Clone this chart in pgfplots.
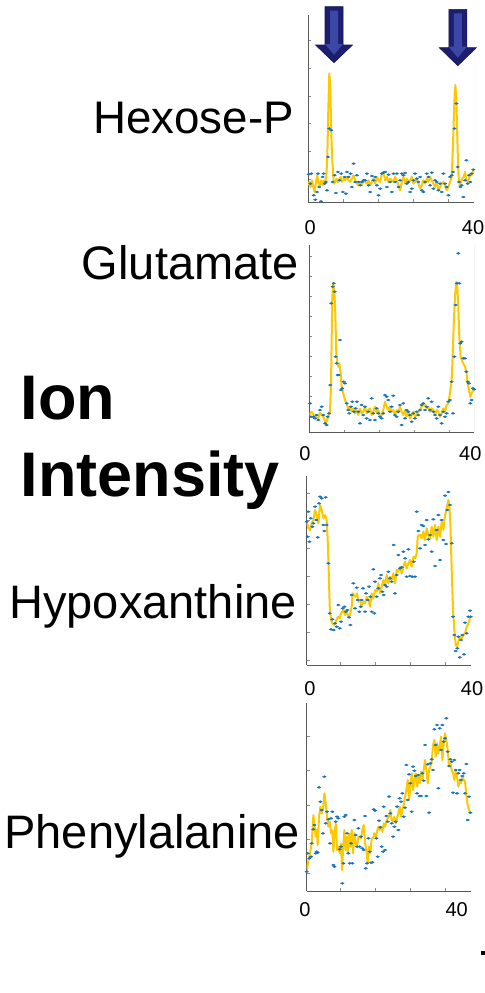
\documentclass[border=0pt]{standalone}
\usepackage{pgfplots}
\pgfplotsset{compat=1.18}
\usepackage{fontspec}
\setmainfont{Liberation Sans}
\definecolor{mblue}{RGB}{20,115,190}
\definecolor{myel}{RGB}{252,200,0}
\definecolor{navyA}{RGB}{28,30,110}
\definecolor{navyB}{RGB}{60,72,165}
\pgfplotsset{mini/.style={scale only axis, axis lines*=left,
  axis line style={black!65, line width=0.9bp},
  tick style={black!45, line width=0.5bp}, major tick length=3bp,
  tick align=inside, xticklabels={}, yticklabels={}},
  dots/.style={only marks, mark=*, mark size=1.15bp, color=mblue,
  mark options={xscale=1.5,yscale=0.85}},
  yel/.style={no marks, color=myel, line width=2bp, line join=round}}
\begin{document}
\begin{tikzpicture}[x=1bp,y=1bp]
\fill[white] (0,0) rectangle (485,-993);
\useasboundingbox (0,0) rectangle (485,-993);
% ---------- Hexose-P
\begin{axis}[mini, at={(308bp,-202bp)}, anchor=south west, width=166bp, height=187bp,
  xmin=38, xmax=537, ymin=-605, ymax=-45,
  xtick={143,248,354,459}, ytick={-537,-453,-370,-287,-203,-120}]
\draw[black!12] (rel axis cs:1,0) -- (rel axis cs:1,1);
\addplot[dots] coordinates {(40,-522)(45,-550)(48,-520)(55,-585)(60,-598)(65,-575)(68,-520)(72,-560)(77,-603)(82,-530)(85,-520)(88,-550)(92,-545)(95,-570)(98,-470)(102,-385)(108,-390)(112,-545)(118,-525)(122,-578)(128,-515)(133,-540)(138,-520)(143,-575)(148,-530)(152,-580)(155,-515)(160,-530)(166,-520)(170,-560)(175,-490)(180,-545)(185,-525)(190,-545)(195,-555)(200,-545)(205,-540)(210,-540)(215,-520)(220,-555)(225,-575)(230,-527)(235,-540)(240,-530)(245,-555)(250,-585)(255,-565)(260,-520)(265,-517)(270,-515)(275,-560)(280,-523)(285,-545)(290,-575)(295,-520)(300,-545)(305,-520)(310,-560)(315,-540)(320,-520)(325,-525)(330,-518)(335,-550)(340,-545)(345,-575)(350,-565)(355,-540)(360,-520)(365,-535)(370,-545)(375,-530)(380,-570)(385,-575)(390,-545)(395,-520)(400,-530)(405,-555)(410,-517)(415,-565)(420,-540)(425,-545)(430,-570)(435,-550)(440,-575)(445,-520)(450,-550)(455,-560)(460,-585)(465,-530)(470,-525)(474,-515)(478,-385)(484,-310)(488,-500)(492,-545)(496,-560)(500,-555)(505,-590)(510,-540)(514,-480)(518,-550)(522,-525)(526,-545)(530,-520)(535,-508)};
\addplot[yel] coordinates {(38,-555)(42,-545)(46,-560)(50,-540)(54,-560)(58,-575)(62,-545)(66,-525)(70,-550)(74,-555)(78,-540)(82,-555)(86,-540)(90,-545)(93,-530)(96,-470)(99,-330)(102,-220)(105,-260)(108,-400)(111,-480)(114,-530)(117,-550)(120,-545)(124,-535)(128,-545)(132,-538)(136,-530)(140,-545)(145,-535)(150,-540)(155,-530)(160,-540)(165,-545)(170,-535)(175,-525)(180,-540)(185,-550)(190,-555)(195,-545)(200,-555)(205,-540)(210,-545)(215,-550)(220,-540)(225,-555)(230,-545)(235,-535)(240,-550)(245,-530)(250,-540)(255,-545)(260,-520)(265,-515)(270,-540)(275,-530)(280,-545)(285,-535)(290,-540)(295,-545)(300,-530)(305,-540)(310,-555)(315,-570)(320,-545)(325,-530)(330,-550)(335,-535)(340,-545)(345,-540)(350,-530)(355,-550)(360,-545)(365,-535)(370,-550)(375,-565)(380,-555)(385,-540)(390,-550)(395,-535)(400,-545)(405,-530)(410,-540)(415,-550)(420,-560)(425,-545)(430,-570)(435,-560)(440,-550)(445,-545)(450,-555)(455,-570)(460,-560)(465,-545)(470,-530)(474,-430)(478,-300)(481,-255)(484,-300)(487,-420)(490,-520)(494,-555)(498,-545)(502,-535)(506,-530)(510,-515)(514,-540)(518,-545)(522,-535)(526,-520)(530,-525)(535,-510)};
\end{axis}
% ---------- Glutamate
\begin{axis}[mini, at={(309.3bp,-432.7bp)}, anchor=south west, width=165bp, height=187.7bp,
  xmin=43, xmax=538, ymin=-608, ymax=-45,
  xtick={148,253,358,463}, ytick={-560,-500,-440,-380,-320,-260,-200,-140,-80}]
\draw[black!12] (rel axis cs:1,0) -- (rel axis cs:1,1);
\addplot[dots] coordinates {(45,-520)(48,-560)(55,-560)(60,-565)(65,-555)(70,-570)(75,-540)(80,-530)(85,-555)(90,-580)(95,-585)(98,-560)(102,-550)(106,-465)(109,-220)(113,-170)(116,-160)(119,-185)(122,-380)(125,-400)(128,-435)(131,-435)(135,-330)(138,-480)(142,-475)(146,-455)(150,-460)(155,-520)(160,-540)(163,-550)(168,-530)(172,-515)(177,-545)(182,-535)(186,-515)(190,-545)(195,-580)(200,-525)(205,-555)(210,-530)(215,-565)(220,-545)(225,-570)(230,-505)(235,-550)(240,-570)(245,-535)(250,-550)(255,-560)(260,-565)(265,-550)(270,-495)(275,-500)(280,-510)(285,-545)(290,-530)(295,-497)(300,-555)(305,-560)(310,-545)(315,-525)(320,-585)(325,-520)(330,-565)(335,-540)(340,-545)(345,-555)(350,-575)(355,-550)(360,-565)(365,-545)(370,-555)(375,-540)(380,-525)(385,-520)(390,-540)(395,-530)(400,-505)(405,-540)(410,-515)(415,-545)(420,-555)(425,-565)(430,-530)(435,-555)(440,-580)(445,-545)(450,-560)(455,-550)(460,-515)(465,-510)(470,-455)(474,-550)(478,-380)(482,-225)(486,-160)(490,-70)(493,-160)(496,-340)(500,-335)(505,-385)(510,-385)(514,-425)(518,-455)(522,-460)(526,-520)(530,-510)(534,-475)(538,-478)};
\addplot[yel] coordinates {(43,-555)(50,-545)(60,-560)(70,-565)(75,-548)(85,-560)(93,-580)(100,-560)(105,-545)(108,-470)(112,-200)(115,-160)(118,-180)(121,-250)(124,-370)(127,-400)(130,-410)(133,-400)(137,-430)(140,-470)(145,-490)(150,-510)(155,-520)(160,-540)(165,-530)(170,-545)(175,-535)(180,-550)(185,-540)(190,-555)(195,-535)(200,-550)(205,-545)(210,-530)(215,-550)(220,-540)(225,-535)(230,-555)(235,-545)(240,-530)(245,-548)(250,-540)(255,-560)(260,-555)(265,-540)(270,-515)(275,-530)(280,-540)(285,-530)(290,-545)(295,-540)(300,-555)(305,-540)(310,-548)(315,-530)(320,-545)(325,-555)(330,-540)(335,-560)(340,-545)(345,-565)(350,-555)(355,-545)(360,-560)(365,-555)(370,-545)(375,-540)(380,-530)(385,-520)(390,-525)(395,-535)(400,-530)(405,-545)(410,-535)(415,-540)(420,-555)(425,-540)(430,-545)(435,-560)(440,-550)(445,-535)(450,-545)(455,-525)(460,-520)(465,-490)(470,-450)(473,-380)(476,-290)(480,-200)(484,-155)(487,-170)(490,-230)(493,-320)(497,-380)(500,-390)(505,-400)(510,-410)(515,-430)(518,-460)(522,-480)(526,-500)(530,-490)(535,-480)};
\end{axis}
% ---------- Hypoxanthine
\begin{axis}[mini, at={(306.7bp,-665bp)}, anchor=south west, width=164bp, height=189bp,
  xmin=35, xmax=527, ymin=-615, ymax=-48,
  xtick={137,241,346,451}, ytick={-600,-517,-433,-349,-265,-180,-100}]
\draw[black!12] (rel axis cs:1,0) -- (rel axis cs:1,1);
\addplot[dots] coordinates {(35,-185)(38,-230)(40,-155)(43,-245)(47,-175)(52,-200)(55,-190)(60,-140)(64,-180)(68,-232)(72,-130)(75,-110)(80,-115)(85,-195)(88,-213)(92,-112)(95,-195)(100,-310)(104,-460)(108,-508)(112,-478)(116,-510)(120,-490)(125,-500)(130,-435)(134,-505)(138,-485)(143,-445)(148,-440)(152,-455)(157,-450)(162,-472)(166,-495)(170,-405)(175,-370)(180,-445)(185,-383)(188,-420)(193,-455)(197,-440)(200,-420)(204,-385)(210,-455)(213,-400)(218,-420)(222,-380)(226,-410)(230,-455)(235,-328)(238,-460)(240,-365)(245,-410)(250,-385)(255,-355)(258,-345)(262,-395)(266,-405)(270,-375)(275,-380)(280,-335)(285,-355)(290,-365)(296,-255)(300,-400)(305,-345)(310,-285)(315,-325)(320,-322)(325,-275)(330,-295)(335,-350)(340,-268)(345,-348)(352,-350)(356,-305)(360,-350)(365,-155)(370,-213)(375,-265)(380,-195)(385,-198)(390,-255)(395,-180)(400,-238)(405,-225)(410,-275)(415,-178)(420,-318)(425,-210)(430,-165)(435,-300)(440,-180)(445,-240)(450,-107)(453,-252)(457,-150)(460,-96)(465,-135)(470,-250)(474,-470)(478,-525)(482,-573)(487,-565)(490,-530)(494,-592)(498,-540)(502,-525)(507,-583)(510,-488)(515,-520)(520,-470)(525,-452)(527,-470)};
\addplot[yel] coordinates {(35,-185)(40,-205)(45,-210)(50,-190)(55,-180)(60,-150)(65,-165)(70,-190)(75,-135)(80,-150)(85,-175)(90,-165)(95,-180)(98,-240)(101,-330)(104,-440)(108,-480)(112,-490)(118,-495)(122,-485)(126,-475)(130,-470)(134,-475)(138,-460)(142,-455)(146,-450)(150,-465)(155,-455)(160,-470)(165,-465)(170,-440)(173,-400)(177,-405)(182,-410)(186,-400)(190,-425)(195,-420)(200,-440)(205,-425)(210,-430)(215,-410)(220,-420)(225,-440)(230,-400)(235,-415)(240,-390)(245,-395)(250,-370)(255,-400)(260,-380)(265,-360)(270,-375)(275,-345)(280,-370)(285,-350)(290,-360)(295,-340)(300,-370)(305,-330)(310,-335)(315,-320)(320,-340)(325,-320)(330,-305)(335,-325)(340,-310)(345,-300)(350,-320)(355,-290)(360,-295)(365,-280)(368,-230)(372,-225)(376,-225)(380,-235)(385,-215)(390,-240)(395,-205)(400,-225)(405,-235)(410,-200)(415,-230)(420,-195)(425,-240)(430,-200)(435,-230)(440,-185)(445,-210)(450,-165)(455,-145)(460,-120)(463,-140)(466,-190)(470,-330)(474,-450)(478,-510)(482,-555)(486,-560)(490,-545)(495,-530)(500,-535)(505,-525)(510,-520)(515,-500)(520,-490)(527,-470)};
\end{axis}
% ---------- Phenylalanine
\begin{axis}[mini, at={(306.7bp,-891bp)}, anchor=south west, width=164bp, height=187.7bp,
  xmin=35, xmax=527, ymin=-603, ymax=-40,
  xtick={137,241,346,452}, ytick={-550,-448,-345,-242,-140}]
\draw[black!12] (rel axis cs:1,0) -- (rel axis cs:1,1);
\addplot[dots] coordinates {(35,-545)(38,-490)(43,-505)(48,-500)(50,-460)(55,-418)(58,-405)(62,-490)(65,-485)(68,-488)(72,-292)(76,-335)(80,-360)(84,-430)(88,-260)(92,-400)(96,-365)(100,-388)(105,-460)(108,-385)(112,-365)(115,-525)(118,-530)(122,-395)(126,-380)(130,-385)(134,-478)(138,-470)(142,-580)(145,-520)(148,-380)(152,-375)(156,-430)(160,-490)(164,-520)(168,-460)(172,-520)(178,-390)(182,-435)(186,-470)(190,-415)(194,-470)(198,-440)(202,-475)(206,-480)(210,-378)(212,-535)(216,-520)(220,-445)(224,-485)(228,-518)(232,-517)(236,-358)(240,-362)(244,-445)(248,-500)(252,-392)(256,-412)(260,-470)(264,-485)(266,-350)(270,-480)(274,-378)(278,-395)(282,-320)(286,-370)(290,-400)(294,-440)(298,-410)(302,-395)(306,-350)(310,-420)(314,-325)(318,-335)(322,-310)(326,-380)(330,-353)(334,-225)(338,-330)(342,-253)(346,-280)(350,-365)(354,-230)(358,-242)(362,-258)(366,-310)(370,-255)(374,-318)(378,-318)(382,-250)(386,-272)(390,-165)(394,-318)(398,-223)(402,-368)(406,-220)(410,-208)(414,-240)(418,-118)(422,-165)(426,-105)(430,-295)(434,-115)(438,-180)(442,-105)(446,-155)(450,-145)(454,-85)(458,-185)(462,-228)(466,-208)(470,-215)(474,-308)(478,-210)(482,-240)(486,-310)(490,-250)(494,-240)(498,-270)(502,-258)(506,-250)(510,-310)(514,-222)(518,-390)(522,-320)(526,-368)};
\addplot[yel] coordinates {(35,-545)(40,-510)(45,-490)(50,-460)(55,-375)(58,-400)(62,-440)(65,-420)(68,-465)(72,-380)(76,-350)(80,-370)(84,-355)(88,-310)(92,-340)(96,-380)(100,-410)(104,-395)(108,-430)(112,-420)(115,-485)(118,-440)(122,-400)(126,-480)(130,-470)(134,-490)(138,-460)(141,-540)(144,-480)(148,-420)(152,-480)(155,-440)(158,-490)(162,-430)(166,-470)(170,-420)(174,-490)(178,-430)(182,-460)(186,-470)(190,-440)(194,-440)(198,-445)(202,-420)(206,-405)(210,-460)(214,-480)(218,-520)(222,-470)(226,-490)(230,-445)(234,-445)(238,-430)(242,-440)(246,-425)(250,-410)(254,-420)(258,-410)(262,-425)(266,-400)(270,-410)(274,-395)(278,-385)(282,-380)(286,-360)(290,-390)(294,-395)(298,-380)(302,-400)(306,-385)(310,-370)(314,-350)(318,-380)(322,-360)(326,-345)(330,-320)(334,-300)(338,-270)(342,-330)(346,-290)(350,-250)(354,-300)(358,-270)(362,-250)(366,-290)(370,-260)(374,-280)(378,-245)(382,-270)(386,-240)(390,-210)(394,-240)(398,-280)(402,-240)(406,-230)(410,-215)(414,-165)(418,-150)(422,-200)(426,-160)(430,-190)(434,-170)(438,-140)(442,-210)(446,-160)(450,-130)(454,-150)(458,-180)(462,-230)(466,-220)(470,-240)(474,-250)(478,-270)(482,-240)(486,-260)(490,-290)(494,-270)(498,-280)(502,-260)(506,-270)(510,-275)(514,-315)(518,-345)(522,-360)(526,-370)};
\end{axis}
% ---------- arrows
\foreach \cx/\ty/\hb/\tp in {334/6.7/45/62.7, 457.8/9.3/47.7/65.7}{
  \fill[navyA, draw=navyA!80!black, line width=0.6bp]
    (\cx-9,-\ty) -- (\cx+9,-\ty) -- (\cx+9,-\hb) -- (\cx+18.5,-\hb)
    -- (\cx,-\tp) -- (\cx-18.5,-\hb) -- (\cx-9,-\hb) -- cycle;
  \fill[navyB] (\cx-4,-\ty-4) -- (\cx+4,-\ty-4) -- (\cx+4,-\hb+1) -- (\cx+9,-\hb+1)
    -- (\cx,-\tp+8) -- (\cx-9,-\hb+1) -- (\cx-4,-\hb+1) -- cycle;
}
% ---------- labels
\begingroup
\fontsize{45.7bp}{50bp}\selectfont
\node[anchor=base east, inner sep=0pt] at (294,-133.3) {Hexose-P};
\fontsize{47bp}{50bp}\selectfont
\node[anchor=base east, inner sep=0pt] at (299,-279) {Glutamate};
\node[anchor=base east, inner sep=0pt] at (297,-618.3) {Hypoxanthine};
\node[anchor=base east, inner sep=0pt] at (300,-848.3) {Phenylalanine};
\endgroup
\begingroup
\fontsize{63bp}{70bp}\selectfont\bfseries
\node[anchor=base west, inner sep=0pt] at (20.5,-419.3) {Ion};
\node[anchor=base west, inner sep=0pt] at (20.5,-496) {Intensity};
\endgroup
\begingroup
\fontsize{20bp}{22bp}\selectfont
\node[anchor=base, inner sep=0pt] at (310.3,-234.7) {0};
\node[anchor=base, inner sep=0pt] at (473,-234.7) {40};
\node[anchor=base, inner sep=0pt] at (305,-460.7) {0};
\node[anchor=base, inner sep=0pt] at (470.3,-460.7) {40};
\node[anchor=base, inner sep=0pt] at (310,-695) {0};
\node[anchor=base, inner sep=0pt] at (472,-695) {40};
\node[anchor=base, inner sep=0pt] at (305,-916.7) {0};
\node[anchor=base, inner sep=0pt] at (456.7,-916.7) {40};
\endgroup
\fill (481,-951) rectangle (485,-955);
\end{tikzpicture}
\end{document}
